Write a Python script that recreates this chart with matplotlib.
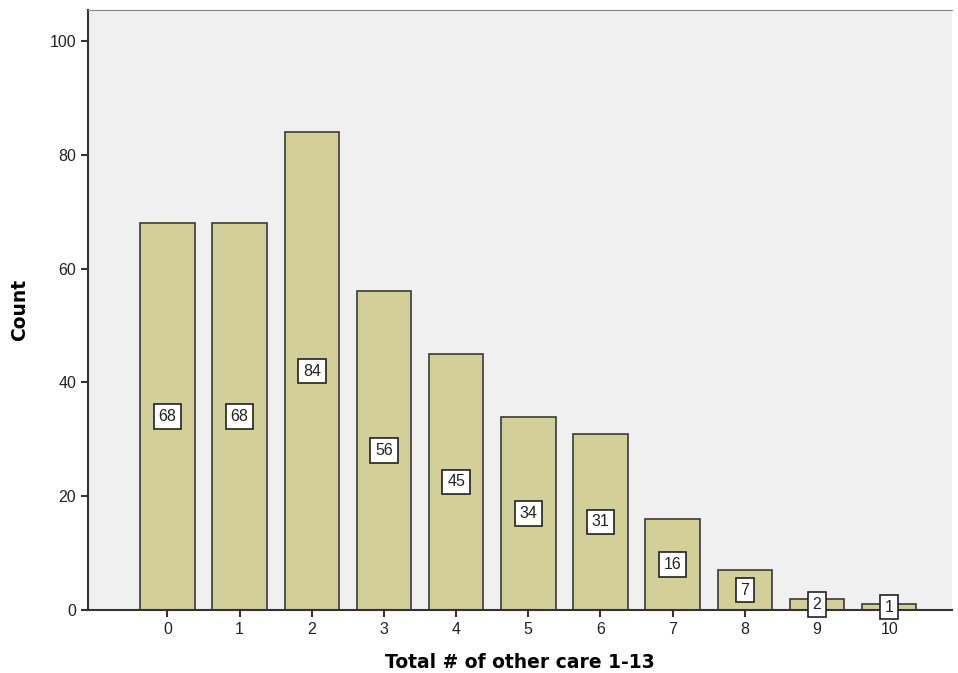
import matplotlib.pyplot as plt

categories = [0, 1, 2, 3, 4, 5, 6, 7, 8, 9, 10]
counts = [68, 68, 84, 56, 45, 34, 31, 16, 7, 2, 1]

plt.rcParams.update({"font.family": "Liberation Sans", "font.size": 11})

fig = plt.figure(figsize=(9.58, 6.73), dpi=100)
ax = fig.add_axes([88 / 958, 1 - 610 / 673, 864 / 958, 600 / 673])
ax.set_facecolor("#f0f0f0")

ax.bar(categories, counts, width=0.755, color="#d3cf98",
       edgecolor="#3a3a3a", linewidth=1.2, zorder=2)

for x, c in zip(categories, counts):
    ax.text(x, c / 2, str(c), ha="center", va="center", fontsize=11.5,
            color="#222222", zorder=3,
            bbox=dict(boxstyle="square,pad=0.3", fc="white", ec="#222222", lw=1.2))

ax.set_xlim(-1.1, 10.87)
ax.set_ylim(0, 105.45)
ax.set_xticks(categories)
ax.set_yticks([0, 20, 40, 60, 80, 100])
ax.tick_params(direction="out", length=5, width=1.5, colors="#333333",
               labelcolor="#222222", labelsize=11.5)

ax.spines["right"].set_visible(False)
ax.spines["top"].set_color("#888888")
ax.spines["left"].set_color("#333333")
ax.spines["bottom"].set_color("#333333")
ax.spines["left"].set_linewidth(1.5)
ax.spines["bottom"].set_linewidth(1.5)

ax.set_ylabel("Count", fontsize=13.5, fontweight="bold", labelpad=15,
              family="DejaVu Sans")
ax.set_xlabel("Total # of other care 1-13", fontsize=13.5, fontweight="bold",
              labelpad=12, family="DejaVu Sans")

fig.savefig("out.png", dpi=100)
